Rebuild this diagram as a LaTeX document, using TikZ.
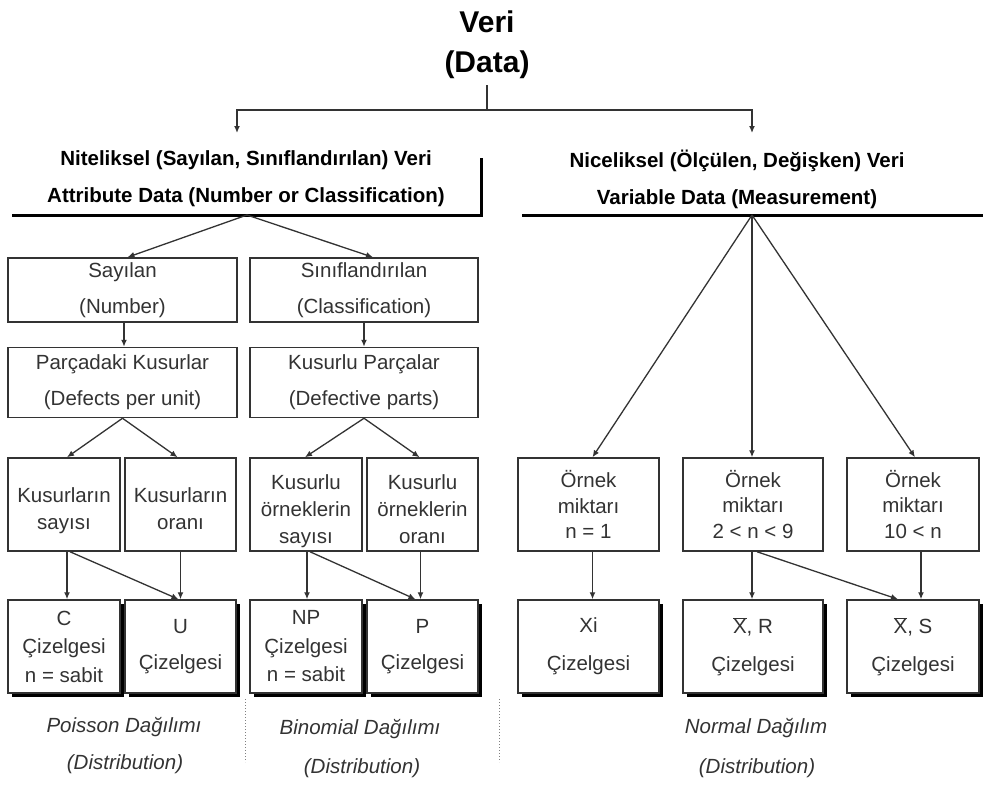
\documentclass[tikz,border=0pt]{standalone}
\usepackage{fontspec}
\setmainfont{Liberation Sans}
\usetikzlibrary{arrows.meta,shadows}
\definecolor{ink}{gray}{0.2}
\definecolor{edge}{gray}{0.2}
\newcommand{\lift}[1]{\rule{0pt}{#1}}
\newcommand{\sink}{\rule[-4.4pt]{0pt}{4.4pt}}
\tikzset{
  box/.style={draw=edge, line width=1.5pt, fill=white, inner sep=0pt,
    align=center, text=ink},
  sp36/.style={font=\fontsize{20.5}{36}\selectfont},
  sp27/.style={font=\fontsize{20.5}{27}\selectfont},
  sp26/.style={font=\fontsize{20.5}{25.5}\selectfont},
  sp28/.style={font=\fontsize{20.5}{28.5}\selectfont},
  sp38/.style={font=\fontsize{20.5}{38}\selectfont},
  chart/.style={box, drop shadow={shadow xshift=4pt, shadow yshift=-4pt,
    fill=black, opacity=1}},
  head/.style={align=center, inner sep=0pt, font=\bfseries\fontsize{20.5}{37}\selectfont},
  note/.style={inner sep=0pt, text=ink, font=\itshape\fontsize{20.5}{24}\selectfont},
  link/.style={draw=edge, line width=1.3pt},
  arr/.style={link, -{Latex[length=7pt,width=6pt]}},
  rule/.style={draw=black, line width=3pt},
  divider/.style={draw=gray, line width=1pt, dotted}
}
\begin{document}
\begin{tikzpicture}[x=1pt, y=-1pt]
\useasboundingbox (0,0) rectangle (983,787);
\fill[white] (0,0) rectangle (983,787);

% title and first split
\node[align=center, inner sep=0pt, font=\bfseries\fontsize{30}{40}\selectfont] (veri) at (487,45) {Veri\\(Data)};
\coordinate (split) at (487,110);
\coordinate (attrtop) at (237,133);
\coordinate (vartop) at (752,133);
\draw[link] ([yshift=-6pt]veri.south) -- (split);
\draw[arr] (split) -| (attrtop);
\draw[arr] (split) -| (vartop);

% section headings with their rules
\node[head] (attr) at (246,179) {Niteliksel (Sayılan, Sınıflandırılan) Veri\\Attribute Data (Number or Classification)};
\node[head] (var) at (737,179) {Niceliksel (Ölçülen, Değişken) Veri\\Variable Data (Measurement)};
\coordinate (aL) at (12,215);
\coordinate (aR) at (481,215);
\coordinate (aT) at (481,158);
\coordinate (vL) at (522,215);
\coordinate (vR) at (983,215);
\draw[rule] (aL) -- (aR) -- (aT);
\draw[rule] (vL) -- (vR);
\coordinate (attrapex) at (247,215);
\coordinate (varapex) at (752,215);

% attribute data: first two levels
\node[box, sp36, minimum width=229, minimum height=64] (say) at (122.5,290) {Sayılan\\(Number)};
\node[box, sp36, minimum width=228, minimum height=64] (sinif) at (364,290) {Sınıflandırılan\\(Classification)};
\node[box, sp36, minimum width=229, minimum height=70] (parca) at (122.5,382.5) {Parçadaki Kusurlar\\(Defects per unit)};
\node[box, sp36, minimum width=228, minimum height=70] (kparca) at (364,382.5) {Kusurlu Parçalar\\(Defective parts)};

\draw[arr] (attrapex) -- ([xshift=5pt]say.north);
\draw[arr] (attrapex) -- ([xshift=9pt]sinif.north);
\draw[arr] ([xshift=1.5pt]say.south) -- ([xshift=1.5pt]parca.north);
\draw[arr] (sinif.south) -- (kparca.north);

% attribute data: measures
\node[box, sp27, minimum width=112, minimum height=93] (ks) at (64,504.5) {\lift{27pt}Kusurların\\sayısı};
\node[box, sp27, minimum width=111, minimum height=93] (ko) at (180.5,504.5) {\lift{27pt}Kusurların\\oranı\sink};
\node[box, sp27, minimum width=112, minimum height=93] (kos) at (306,504.5) {\lift{29pt}Kusurlu\\örneklerin\\sayısı};
\node[box, sp27, minimum width=111, minimum height=93] (koo) at (422.5,504.5) {\lift{29pt}Kusurlu\\örneklerin\\oranı\sink};

\draw[arr] (parca.south) -- ([xshift=3pt]ks.north);
\draw[arr] (parca.south) -- ([xshift=-3pt]ko.north);
\draw[arr] (kparca.south) -- ([xshift=-1pt]kos.north);
\draw[arr] (kparca.south) -- ([xshift=-3pt]koo.north);

% attribute data: control charts
\node[chart, sp28, minimum width=112, minimum height=93] (c) at (64,646.5) {C\\Çizelgesi\\n = sabit};
\node[chart, sp36, minimum width=111, minimum height=93] (u) at (180.5,646.5) {U\\Çizelgesi};
\node[chart, sp28, minimum width=112, minimum height=93] (np) at (306,646.5) {NP\\Çizelgesi\\n = sabit};
\node[chart, sp36, minimum width=111, minimum height=93] (p) at (422.5,646.5) {P\\Çizelgesi};

\draw[arr] ([xshift=3pt]ks.south) -- ([xshift=3pt]c.north);
\draw[arr] ([xshift=6pt]ks.south) -- ([xshift=-2pt]u.north);
\draw[arr] (ko.south) -- (u.north);
\draw[arr] ([xshift=1pt]kos.south) -- ([xshift=1pt]np.north);
\draw[arr] ([xshift=4pt]kos.south) -- ([xshift=-7pt]p.north);
\draw[arr] ([xshift=-2pt]koo.south) -- ([xshift=-2pt]p.north);

% variable data: sample sizes
\node[box, sp26, minimum width=141, minimum height=93] (n1) at (588.5,504.5) {Örnek\\miktarı\\n = 1};
\node[box, sp26, minimum width=140, minimum height=93] (n29) at (753,504.5) {Örnek\\miktarı\\2 < n < 9};
\node[box, sp26, minimum width=132, minimum height=93] (n10) at (913,504.5) {Örnek\\miktarı\\10 < n};

\draw[arr] (varapex) -- ([xshift=4pt]n1.north);
\draw[arr] (varapex) -- ([xshift=-1pt]n29.north);
\draw[arr] (varapex) -- ([xshift=2pt]n10.north);

% variable data: control charts
\node[chart, sp38, minimum width=141, minimum height=93] (xi) at (588.5,646.5) {Xi\\Çizelgesi};
\node[chart, sp38, minimum width=140, minimum height=93] (xr) at (753,646.5) {$\overline{\mbox{X}}$, R\\Çizelgesi};
\node[chart, sp38, minimum width=132, minimum height=93] (xs) at (913,646.5) {$\overline{\mbox{X}}$, S\\Çizelgesi};

\draw[arr] ([xshift=4pt]n1.south) -- ([xshift=4pt]xi.north);
\draw[arr] ([xshift=-1pt]n29.south) -- ([xshift=-1pt]xr.north);
\draw[arr] ([xshift=4pt]n29.south) -- ([xshift=-15pt]xs.north);
\draw[arr] ([xshift=8pt]n10.south) -- ([xshift=8pt]xs.north);

% distribution families
\coordinate (d1a) at (245,699);
\coordinate (d1b) at (245,762);
\coordinate (d2a) at (499,699);
\coordinate (d2b) at (499,762);
\draw[divider] (d1a) -- (d1b);
\draw[divider] (d2a) -- (d2b);

\node[note] (poisson) at (124,727) {Poisson Dağılımı};
\node[note] (dist1) at (125,764) {(Distribution)};
\node[note] (binom) at (360,729) {Binomial Dağılımı};
\node[note] (dist2) at (362,768) {(Distribution)};
\node[note] (normal) at (756,728) {Normal Dağılım};
\node[note] (dist3) at (757,768) {(Distribution)};
\end{tikzpicture}
\end{document}
